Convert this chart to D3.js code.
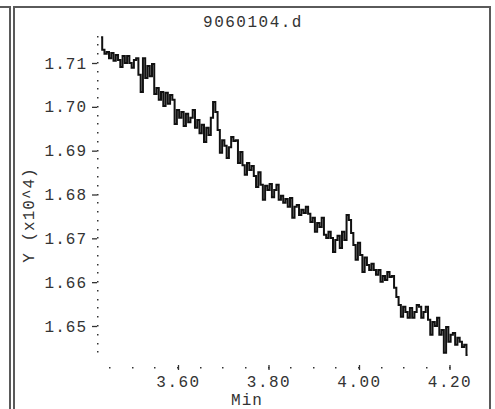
<!DOCTYPE html>
<html>
<head>
<meta charset="utf-8">
<script src="https://cdn.jsdelivr.net/npm/d3@7"></script>
<style>
  html, body { margin: 0; padding: 0; background: #fff; }
  svg { display: block; }
  text { font-family: "Liberation Mono", "DejaVu Sans Mono", monospace; fill: #333; }
</style>
</head>
<body>
<svg id="chart" width="495" height="409"></svg>
<script>
const chartTitle = "9060104.d";
const xLabel = "Min";
const yLabel = "Y (x10^4)";
const xTicks = [3.60, 3.80, 4.00, 4.20];
const yTicks = [1.65, 1.66, 1.67, 1.68, 1.69, 1.70, 1.71];

const times = [
  3.430, 3.435, 3.440, 3.445, 3.450, 3.455, 3.460, 3.465, 3.470, 3.475,
  3.480, 3.485, 3.490, 3.495, 3.500, 3.505, 3.510, 3.515, 3.520, 3.525,
  3.530, 3.535, 3.540, 3.545, 3.550, 3.555, 3.560, 3.565, 3.570, 3.575,
  3.580, 3.585, 3.590, 3.595, 3.600, 3.605, 3.610, 3.615, 3.620, 3.625,
  3.630, 3.635, 3.640, 3.645, 3.650, 3.655, 3.660, 3.665, 3.670, 3.675,
  3.680, 3.685, 3.690, 3.695, 3.700, 3.705, 3.710, 3.715, 3.720, 3.725,
  3.730, 3.735, 3.740, 3.745, 3.750, 3.755, 3.760, 3.765, 3.770, 3.775,
  3.780, 3.785, 3.790, 3.795, 3.800, 3.805, 3.810, 3.815, 3.820, 3.825,
  3.830, 3.835, 3.840, 3.845, 3.850, 3.855, 3.860, 3.865, 3.870, 3.875,
  3.880, 3.885, 3.890, 3.895, 3.900, 3.905, 3.910, 3.915, 3.920, 3.925,
  3.930, 3.935, 3.940, 3.945, 3.950, 3.955, 3.960, 3.965, 3.970, 3.975,
  3.980, 3.985, 3.990, 3.995, 4.000, 4.005, 4.010, 4.015, 4.020, 4.025,
  4.030, 4.035, 4.040, 4.045, 4.050, 4.055, 4.060, 4.065, 4.070, 4.075,
  4.080, 4.085, 4.090, 4.095, 4.100, 4.105, 4.110, 4.115, 4.120, 4.125,
  4.130, 4.135, 4.140, 4.145, 4.150, 4.155, 4.160, 4.165, 4.170, 4.175,
  4.180, 4.185, 4.190, 4.195, 4.200, 4.205, 4.210, 4.215, 4.220, 4.225,
  4.230, 4.235, 4.240
];

const values = [
  1.7159, 1.7130, 1.7121, 1.7125, 1.7111, 1.7123, 1.7105, 1.7118, 1.7107, 1.7091,
  1.7116, 1.7100, 1.7116, 1.7100, 1.7089, 1.7107, 1.7111, 1.7073, 1.7034, 1.7111,
  1.7066, 1.7093, 1.7070, 1.7098, 1.7029, 1.7043, 1.7016, 1.7034, 1.7002, 1.7032,
  1.7007, 1.7027, 1.7016, 1.6961, 1.6993, 1.6975, 1.6988, 1.6956, 1.6984, 1.6965,
  1.6975, 1.6993, 1.6952, 1.6970, 1.6940, 1.6959, 1.6920, 1.6952, 1.6936, 1.6975,
  1.7011, 1.6988, 1.6947, 1.6895, 1.6924, 1.6911, 1.6883, 1.6908, 1.6931, 1.6922,
  1.6924, 1.6872, 1.6897, 1.6867, 1.6845, 1.6872, 1.6856, 1.6865, 1.6842, 1.6817,
  1.6851, 1.6822, 1.6788, 1.6820, 1.6810, 1.6824, 1.6794, 1.6810, 1.6822, 1.6788,
  1.6797, 1.6781, 1.6790, 1.6772, 1.6792, 1.6747, 1.6772, 1.6776, 1.6753, 1.6765,
  1.6758, 1.6772, 1.6756, 1.6737, 1.6747, 1.6715, 1.6735, 1.6726, 1.6747, 1.6708,
  1.6701, 1.6715, 1.6701, 1.6669, 1.6696, 1.6706, 1.6678, 1.6715, 1.6696, 1.6753,
  1.6742, 1.6712, 1.6685, 1.6651, 1.6690, 1.6662, 1.6623, 1.6656, 1.6639, 1.6628,
  1.6642, 1.6628, 1.6617, 1.6628, 1.6601, 1.6614, 1.6605, 1.6623, 1.6612, 1.6614,
  1.6587, 1.6566, 1.6548, 1.6521, 1.6544, 1.6532, 1.6519, 1.6541, 1.6519, 1.6532,
  1.6548, 1.6544, 1.6519, 1.6532, 1.6544, 1.6514, 1.6480, 1.6509, 1.6500, 1.6519,
  1.6480, 1.6491, 1.6439, 1.6498, 1.6464, 1.6480, 1.6484, 1.6457, 1.6473, 1.6464,
  1.6452, 1.6457, 1.6434
];

const svg = d3.select("#chart");

// panel frames
const frame = svg.append("g").attr("fill", "none").attr("stroke", "#5a5a5a")
  .attr("stroke-width", 2).attr("shape-rendering", "crispEdges");
frame.append("path").attr("d", "M0,7H10V409");
frame.append("path").attr("d", "M14,409V7H490V409");

const x = d3.scaleLinear().domain([3.60, 4.20]).range([178, 449.5]);
const y = d3.scaleLinear().domain([1.65, 1.71]).range([326, 63]);

const axisX = 97, axisY = 367;

// dotted y axis
const yDots = d3.range(1.644, 1.7165, 0.002);
svg.append("g").selectAll("rect").data(yDots).join("rect")
  .attr("x", axisX).attr("y", d => Math.round(y(d)) - 1)
  .attr("width", 1.5).attr("height", 1.5).attr("fill", "#333");

// dotted x axis
const xDots = d3.range(3.45, 4.2001, 0.05);
svg.append("g").selectAll("rect").data(xDots).join("rect")
  .attr("x", d => Math.round(x(d)) - 1).attr("y", axisY)
  .attr("width", 1.5).attr("height", 1.5).attr("fill", "#333");

// y axis ticks + labels
const gy = svg.append("g").attr("transform", `translate(${axisX},0)`)
  .call(d3.axisLeft(y).tickValues(yTicks).tickSize(5).tickPadding(5)
    .tickFormat(d3.format(".2f")));
gy.select(".domain").remove();
gy.selectAll(".tick line").attr("stroke", "#333").attr("stroke-width", 1.3);
gy.selectAll(".tick text").attr("font-size", 16).attr("letter-spacing", 1)
  .attr("font-family", null).attr("fill", null);

// x axis ticks + labels
const gx = svg.append("g").attr("transform", `translate(0,${axisY - 2})`)
  .call(d3.axisBottom(x).tickValues(xTicks).tickSize(5).tickPadding(6)
    .tickFormat(d3.format(".2f")));
gx.select(".domain").remove();
gx.selectAll(".tick line").attr("stroke", "#333").attr("stroke-width", 1.3);
gx.selectAll(".tick text").attr("font-size", 16).attr("letter-spacing", 1.5)
  .attr("font-family", null).attr("fill", null);

// data line (stepped, like the instrument trace)
const pts = times.map((t, i) => [t, values[i]]);
svg.append("path").datum(pts)
  .attr("fill", "none").attr("stroke", "#111").attr("stroke-width", 2)
  .attr("stroke-linejoin", "miter")
  .attr("d", d3.line().curve(d3.curveStep).x(d => x(d[0])).y(d => y(d[1])));

// title and axis labels
svg.append("text").attr("x", 253).attr("y", 27).attr("text-anchor", "middle")
  .attr("font-size", 16).attr("letter-spacing", 1.5).text(chartTitle);
svg.append("text").attr("x", 247).attr("y", 405).attr("text-anchor", "middle")
  .attr("font-size", 16).attr("letter-spacing", 1).text(xLabel);
svg.append("text").attr("transform", "translate(34,215) rotate(-90)")
  .attr("text-anchor", "middle").attr("font-size", 16).attr("letter-spacing", 1)
  .text(yLabel);
</script>
</body>
</html>
